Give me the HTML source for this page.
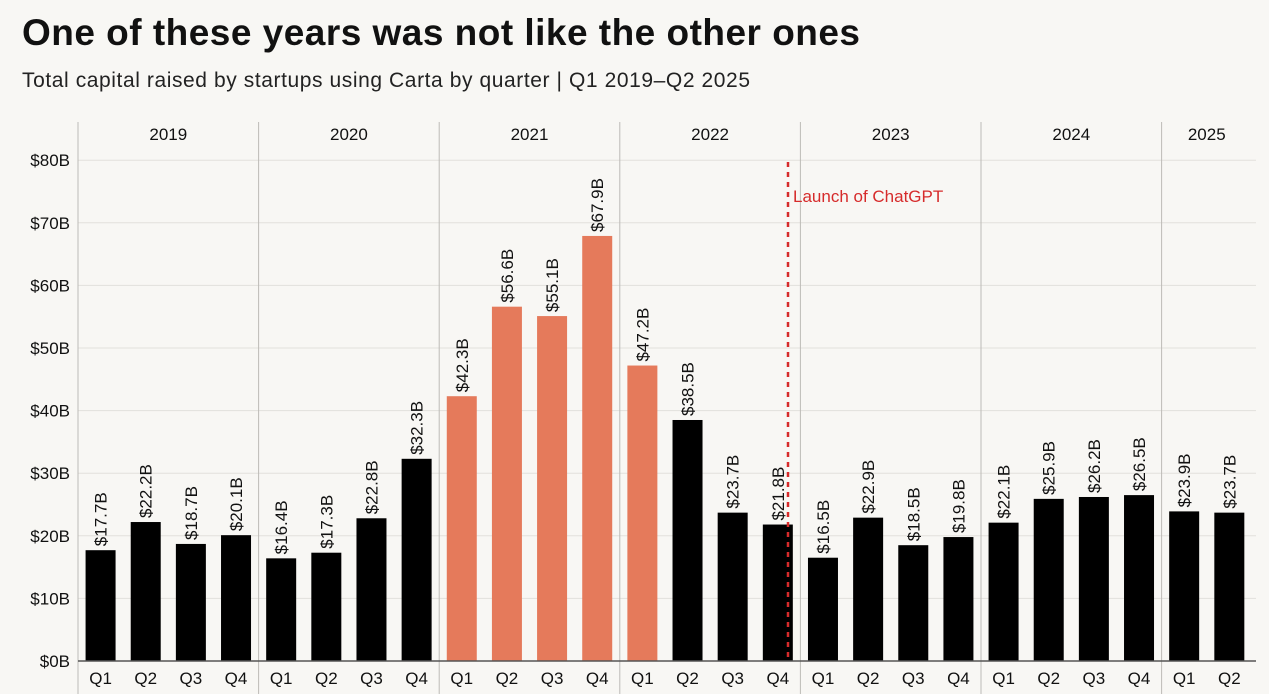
<!DOCTYPE html>
<html><head><meta charset="utf-8"><style>
body{margin:0;background:#f8f7f4;font-family:"Liberation Sans",sans-serif;}
svg{display:block}
</style></head><body>
<svg id="c" width="1269" height="694">
<text x="22" y="45" font-size="37" font-weight="bold" fill="#111" textLength="838" lengthAdjust="spacing">One of these years was not like the other ones</text>
<text x="22" y="87" font-size="21" fill="#222" textLength="728" lengthAdjust="spacing">Total capital raised by startups using Carta by quarter | Q1 2019–Q2 2025</text>
<g id="g"></g>
</svg>
<script>
const years=['2019','2020','2021','2022','2023','2024','2025'];
const quarters=['Q1','Q2','Q3','Q4','Q1','Q2','Q3','Q4','Q1','Q2','Q3','Q4','Q1','Q2','Q3','Q4','Q1','Q2','Q3','Q4','Q1','Q2','Q3','Q4','Q1','Q2'];
const values=[17.7,22.2,18.7,20.1,16.4,17.3,22.8,32.3,42.3,56.6,55.1,67.9,47.2,38.5,23.7,21.8,16.5,22.9,18.5,19.8,22.1,25.9,26.2,26.5,23.9,23.7];
const highlight=[0,0,0,0,0,0,0,0,1,1,1,1,1,0,0,0,0,0,0,0,0,0,0,0,0,0];
const yTicks=[0,10,20,30,40,50,60,70,80];
const NS='http://www.w3.org/2000/svg';
const g=document.getElementById('g');
const x0=78,qw=45.15,y0=661,ppu=6.26,bw=30;
const X=i=>x0+qw*(i+0.5), Y=v=>y0-v*ppu;
function el(t,a,txt){const e=document.createElementNS(NS,t);for(const k in a)e.setAttribute(k,a[k]);if(txt!=null)e.textContent=txt;g.appendChild(e);return e;}
yTicks.forEach(t=>{
 const l=el('line',{x1:x0,x2:1256,y1:Y(t),y2:Y(t),stroke:'#e2e0dc','stroke-width':1});
 
 
 const s=el('text',{x:70,y:Y(t)+6,'font-size':17,'text-anchor':'end',fill:'#111'},'$'+t+'B');
 
 
});
years.forEach((yr,k)=>{
 const xs=x0+k*4*qw;
 const l=el('line',{x1:xs,x2:xs,y1:122,y2:694,stroke:'#bdbbb7','stroke-width':1});
 
 
 const n=Math.min(4,quarters.length-k*4);
 const t=el('text',{x:xs+n*qw/2,y:140,'font-size':17,'text-anchor':'middle',fill:'#111'},yr);
 
 
});
values.forEach((v,i)=>{
 const r=el('rect',{x:X(i)-bw/2,y:Y(v),width:bw,height:y0-Y(v),fill:highlight[i]?'#e57a5b':'#000'});
 
 
 const tx=X(i)+6,ty=Y(v)-4;
 const t=el('text',{x:tx,y:ty,'font-size':17,fill:'#111',transform:`rotate(-90 ${tx} ${ty})`},'$'+v.toFixed(1)+'B');
 
 
 const q=el('text',{x:X(i),y:684,'font-size':17,'text-anchor':'middle',fill:'#111'},quarters[i]);
 
 
});
const ax=el('line',{x1:x0,x2:1256,y1:y0,y2:y0,stroke:'#555','stroke-width':1.5});


const d=el('line',{x1:788,x2:788,y1:162,y2:y0,stroke:'#d62b2b','stroke-width':2.5,'stroke-dasharray':'5,5'});


const dl=el('text',{x:793,y:202,'font-size':17,fill:'#d62b2b'},'Launch of ChatGPT');


</script>
</body></html>
